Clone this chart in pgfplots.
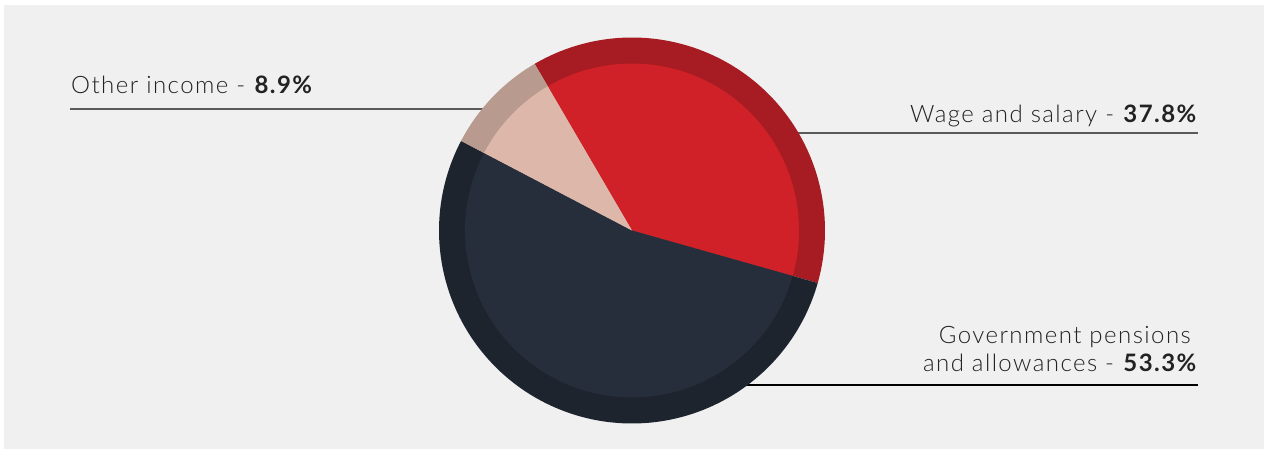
\documentclass[border=0pt]{standalone}
\usepackage{pgfplots}
\usepackage{pgfplotstable}
\pgfplotsset{compat=1.18}
\usepackage{fontspec}
\setmainfont{Lato Light}[BoldFont={Lato Bold}, LetterSpace=6]
\definecolor{bgc}{HTML}{F0F0F0}
\definecolor{wageIn}{HTML}{CF2127}
\definecolor{wageRing}{HTML}{A71B22}
\definecolor{govIn}{HTML}{262E3C}
\definecolor{govRing}{HTML}{1E242E}
\definecolor{othIn}{HTML}{DDB8AA}
\definecolor{othRing}{HTML}{B89A8E}
\definecolor{leadc}{HTML}{5A5A5A}
\definecolor{txt}{HTML}{222222}

\pgfplotstableread{
label pct
Wage 37.8
Gov 53.3
Other 8.9
}\piedata

\def\cx{632}
\def\cy{220.5}
\newcommand\pieslice[4]{%
  \addplot[fill=#1, draw=none, domain=#2:#3, samples=150, variable=\t, forget plot]
    ({\cx+#4*cos(\t)},{\cy+#4*sin(\t)}) -- (\cx,\cy) -- cycle;}

\begin{document}%
\begin{tikzpicture}
\pgfplotstablegetelem{0}{pct}\of\piedata \let\pA\pgfplotsretval
\pgfplotstablegetelem{1}{pct}\of\piedata \let\pB\pgfplotsretval
\pgfplotstablegetelem{2}{pct}\of\piedata \let\pC\pgfplotsretval
\pgfmathsetmacro\aS{120.3}
\pgfmathsetmacro\aA{\aS-3.6*\pA}
\pgfmathsetmacro\aB{\aA-3.6*\pB}
\pgfmathsetmacro\aC{\aB-3.6*\pC}
\begin{axis}[
  width=1270pt, height=451pt, scale only axis,
  xmin=0, xmax=1270, ymin=0, ymax=451,
  hide axis, clip=false]
  \coordinate (BL) at (0,0);
  \coordinate (TR) at (1270,451);
  \fill[white] (0,0) rectangle (1270,451);
  \fill[bgc] (4,2) rectangle (1264,446);
  % leader lines
  \draw[leadc, line width=1.3pt] (70,342) -- (490,342);
  \draw[leadc, line width=1.3pt] (790,318) -- (1198,318);
  \draw[black, line width=1.2pt] (740,66) -- (1198,66);
  % outer ring
  \pieslice{wageRing}{\aA}{\aS}{193}
  \pieslice{govRing}{\aB}{\aA}{193}
  \pieslice{othRing}{\aC}{\aB}{193}
  % inner
  \pieslice{wageIn}{\aA}{\aS}{167}
  \pieslice{govIn}{\aB}{\aA}{167}
  \pieslice{othIn}{\aC}{\aB}{167}
  % labels
  \node[anchor=base west, inner sep=0pt, text=txt, font=\fontsize{24}{27}\selectfont] at (71,358) {Other income - \textbf{8.9\%}};
  \node[anchor=base east, inner sep=0pt, text=txt, font=\fontsize{24}{27}\selectfont] at (1198,329) {Wage and salary - \textbf{37.8\%}};
  \node[anchor=base east, inner sep=0pt, text=txt, font=\fontsize{24}{27}\selectfont] at (1191,108) {Government pensions};
  \node[anchor=base east, inner sep=0pt, text=txt, font=\fontsize{24}{27}\selectfont] at (1198,80) {and allowances - \textbf{53.3\%}};
\end{axis}
\pgfresetboundingbox
\path[use as bounding box] (BL) rectangle (TR);
\end{tikzpicture}%
\end{document}
